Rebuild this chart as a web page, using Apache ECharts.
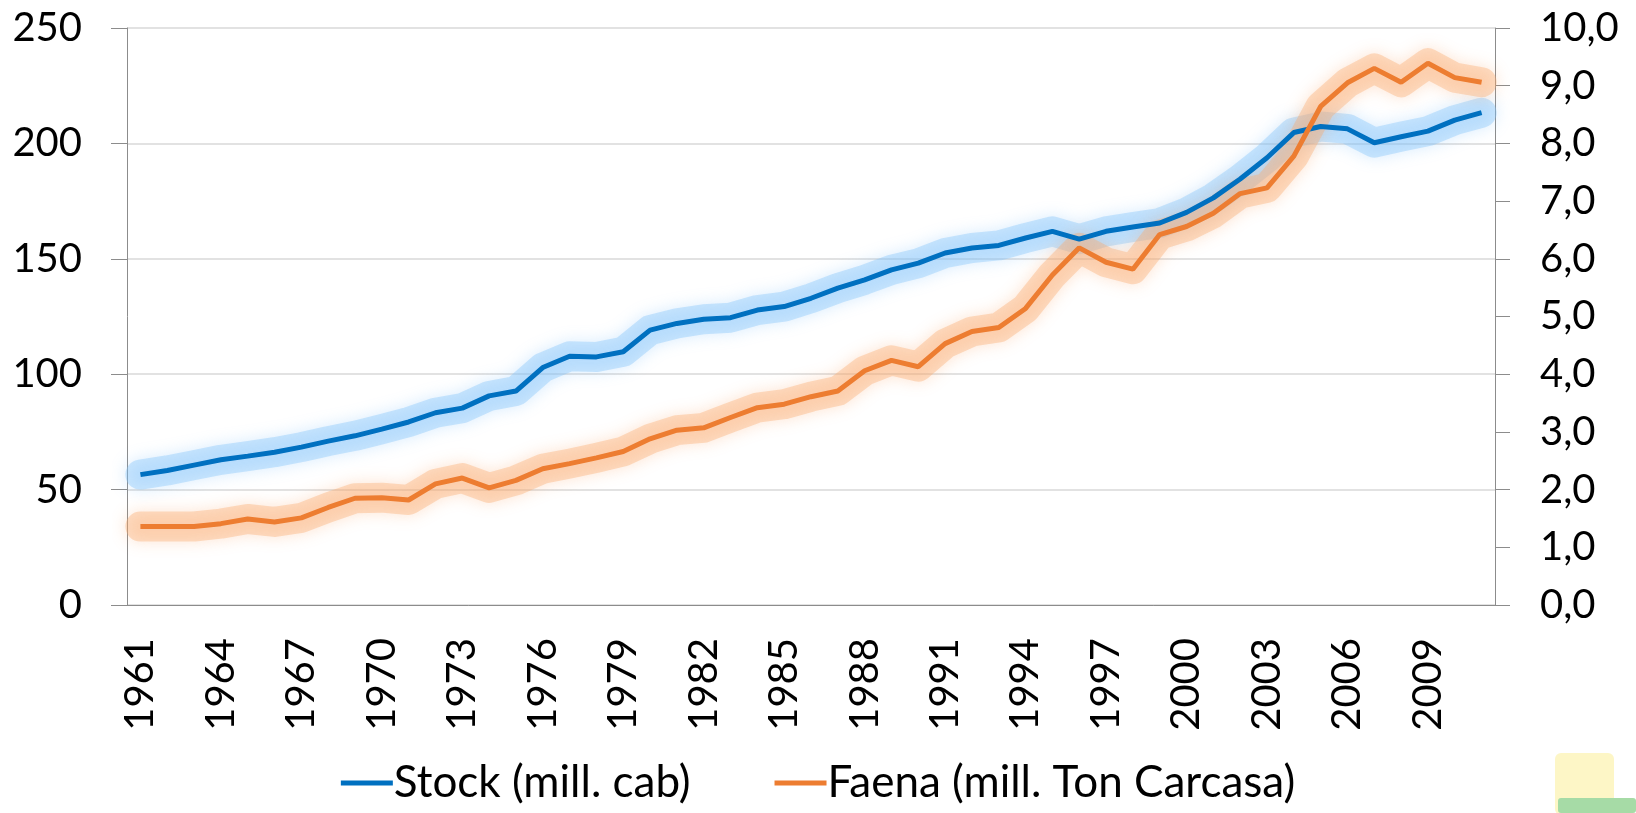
<!DOCTYPE html>
<html>
<head>
<meta charset="utf-8">
<script src="https://cdn.jsdelivr.net/npm/echarts@6/dist/echarts.min.js"></script>
<style>
  html, body { margin: 0; padding: 0; background: #fff; }
  #main { width: 1636px; height: 813px; }
</style>
</head>
<body>
<div id="main"></div>
<script>
// años 1961-2011
var years = []
for (var y = 1961; y <= 2011; y++) years.push(String(y))

// Stock (mill. cab) - eje izquierdo
var stock = [
  56.5, 58.3, 60.6, 62.9, 64.5, 66.2, 68.4, 71.0, 73.3, 76.2,
  79.3, 83.3, 85.3, 90.6, 92.7, 102.9, 107.8, 107.5, 109.7, 119.1,
  122.0, 123.8, 124.5, 127.8, 129.3, 132.9, 137.3, 140.9, 145.2, 148.1,
  152.5, 154.7, 155.8, 159.0, 161.9, 158.5, 161.9, 163.8, 165.5, 170.1,
  176.4, 184.6, 193.8, 204.7, 207.3, 206.3, 200.3, 202.9, 205.3, 210.1,
  213.3
]

// Faena (mill. Ton Carcasa) - eje derecho
var faena = [
  1.36, 1.36, 1.36, 1.41, 1.49, 1.44, 1.51, 1.69, 1.85, 1.86,
  1.82, 2.10, 2.20, 2.03, 2.16, 2.36, 2.45, 2.55, 2.66, 2.88,
  3.03, 3.07, 3.25, 3.42, 3.48, 3.61, 3.71, 4.06, 4.24, 4.13,
  4.53, 4.74, 4.81, 5.14, 5.72, 6.19, 5.94, 5.82, 6.42, 6.56,
  6.79, 7.13, 7.23, 7.78, 8.64, 9.05, 9.30, 9.06, 9.39, 9.14,
  9.06
]

var seriesNames = ['Stock (mill. cab)', 'Faena (mill. Ton Carcasa)']

var font = 'Lato'
var axisGray = '#8c8c8c'

// halo difuso detras de cada linea (mismo dato, linea ancha translucida)
function glow(data, axis, color, shadow) {
  return {
    type: 'line',
    yAxisIndex: axis,
    data: data,
    symbol: 'none',
    silent: true,
    z: 1,
    lineStyle: { color: color, width: 30, shadowColor: shadow, shadowBlur: 16, cap: 'round', join: 'round' }
  }
}

var chart = echarts.init(document.getElementById('main'))
var option = {
  animation: false,
  textStyle: { fontFamily: font, color: '#000' },
  grid: {
    left: 127, right: 141, top: 28, bottom: 208,
    containLabel: false,
    outerBoundsMode: 'none'
  },
  legend: {
    data: seriesNames,
    bottom: 3,
    left: 'center',
    icon: 'rect',
    itemWidth: 52,
    itemHeight: 5,
    itemGap: 84,
    textStyle: { fontFamily: font, fontSize: 44, color: '#000', padding: [0, 0, 0, -4] }
  },
  xAxis: {
    type: 'category',
    data: years,
    boundaryGap: true,
    axisLine: { lineStyle: { color: axisGray, width: 1 } },
    axisTick: { interval: 0, length: 13, lineStyle: { color: axisGray } },
    axisLabel: {
      interval: 2,
      rotate: 90,
      margin: 33,
      fontSize: 40,
      fontFamily: font,
      color: '#000'
    },
    splitLine: { show: false }
  },
  yAxis: [
    {
      type: 'value',
      min: 0, max: 250, interval: 50,
      axisLine: { show: true, lineStyle: { color: axisGray } },
      axisTick: { show: true, length: 16, lineStyle: { color: axisGray } },
      axisLabel: { margin: 45, fontSize: 40, fontFamily: font, color: '#000' },
      splitLine: { show: true, lineStyle: { color: '#d9d9d9', width: 1.5 } }
    },
    {
      type: 'value',
      min: 0, max: 10, interval: 1,
      position: 'right',
      axisLine: { show: true, lineStyle: { color: axisGray } },
      axisTick: { show: true, length: 15, lineStyle: { color: axisGray } },
      axisLabel: {
        margin: 45, fontSize: 40, fontFamily: font, color: '#000',
        formatter: function (v) { return v.toFixed(1).replace('.', ',') }
      },
      splitLine: { show: false }
    }
  ],
  series: [
    glow(stock, 0, 'rgba(130,195,250,0.38)', 'rgba(110,185,250,0.7)'),
    glow(faena, 1, 'rgba(250,170,110,0.38)', 'rgba(250,155,85,0.7)'),
    {
      name: seriesNames[0],
      type: 'line',
      yAxisIndex: 0,
      data: stock,
      symbol: 'none',
      z: 3,
      itemStyle: { color: '#0070C0' },
      lineStyle: { color: '#0070C0', width: 5 }
    },
    {
      name: seriesNames[1],
      type: 'line',
      yAxisIndex: 1,
      data: faena,
      symbol: 'none',
      z: 4,
      itemStyle: { color: '#ED7D31' },
      lineStyle: { color: '#ED7D31', width: 5 }
    }
  ],
  // recuadros de la diapositiva, esquina inferior derecha
  graphic: [
    { type: 'rect', left: 1555, top: 753, shape: { width: 59, height: 62, r: 6 }, style: { fill: '#fdf6c6' }, z: -1 },
    { type: 'rect', left: 1558, top: 798, shape: { width: 78, height: 15, r: 3 }, style: { fill: '#a6dba6' }, z: -1 }
  ]
}
chart.setOption(option)
</script>
</body>
</html>
